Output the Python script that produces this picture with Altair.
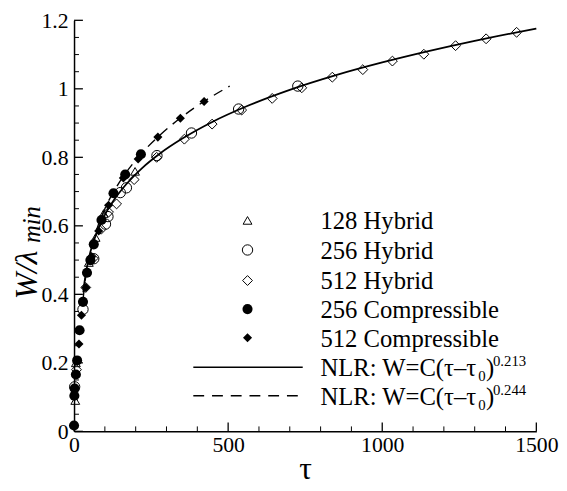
import altair as alt
import pandas as pd

# ---------------- data ----------------
series_names = ["128 Hybrid", "256 Hybrid", "512 Hybrid", "256 Compressible", "512 Compressible"]

tau_128h = [4, 6, 48, 70, 96, 198]
w_128h = [0.09, 0.20, 0.493, 0.566, 0.636, 0.759]

tau_256h = [2, 29, 64, 102, 110, 150, 170, 269, 381, 534, 726]
w_256h = [0.13, 0.356, 0.504, 0.605, 0.627, 0.697, 0.711, 0.805, 0.871, 0.941, 1.008]

tau_512h = [8, 38, 62, 88, 112, 138, 195, 268, 358, 448, 544, 643, 739, 838, 937, 1033, 1135, 1238, 1337, 1436]
w_512h = [0.18, 0.42, 0.505, 0.59, 0.64, 0.664, 0.735, 0.80, 0.853, 0.897, 0.938, 0.972, 1.003, 1.034, 1.056,
          1.081, 1.101, 1.126, 1.146, 1.165]

tau_256c = [0, 1, 2, 6, 10, 18, 29, 42, 53, 64, 89, 128, 166, 217]
w_256c = [0.017, 0.104, 0.125, 0.166, 0.207, 0.295, 0.378, 0.463, 0.50, 0.546, 0.617, 0.695, 0.75, 0.809]

tau_512c = [16, 24, 38, 57, 80, 112, 160, 208, 272, 345, 422]
w_512c = [0.255, 0.339, 0.42, 0.51, 0.585, 0.66, 0.74, 0.795, 0.859, 0.914, 0.963]

fit1_tau = [30, 35, 40, 50, 60, 75, 100, 130, 170, 220, 280, 350, 450, 560, 700, 850, 1000, 1150, 1300, 1500]
fit1_w = [0.406, 0.442, 0.470, 0.513, 0.545, 0.583, 0.632, 0.676, 0.722, 0.768, 0.812, 0.854, 0.904, 0.949,
          0.997, 1.040, 1.077, 1.110, 1.140, 1.176]

fit2_tau = [30, 35, 40, 50, 60, 75, 100, 130, 170, 220, 280, 350, 430, 505]
fit2_w = [0.391, 0.432, 0.463, 0.511, 0.549, 0.593, 0.650, 0.702, 0.757, 0.812, 0.866, 0.918, 0.968, 1.008]

fit_exponents = ["0.213", "0.244"]

x_major = [0, 500, 1000, 1500]
x_minor = [100, 200, 300, 400, 600, 700, 800, 900, 1100, 1200, 1300, 1400]
y_major = [0, 0.2, 0.4, 0.6, 0.8, 1.0, 1.2]
y_minor = [0.05, 0.1, 0.15, 0.25, 0.3, 0.35, 0.45, 0.5, 0.55, 0.65, 0.7, 0.75, 0.85, 0.9, 0.95, 1.05, 1.1, 1.15]

# ---------------- layout / style ----------------
FONT = "Liberation Serif"
W, H = 469, 417

xscale = alt.Scale(domain=[0, 1500], nice=False, zero=False)
yscale = alt.Scale(domain=[0, 1.2], nice=False, zero=False)
xaxis = alt.Axis(values=x_major, format="d", title=None, ticks=False, grid=False,
                 labelPadding=3, labelFlush=False)
yaxis = alt.Axis(values=y_major, format="~g", title=None, ticks=False, grid=False,
                 labelPadding=6, labelFlush=False)


def X(field):
    return alt.X(field, type="quantitative", scale=xscale, axis=xaxis)


def Y(field):
    return alt.Y(field, type="quantitative", scale=yscale, axis=yaxis)


def df(t, w):
    return pd.DataFrame({"tau": t, "w": w})


layers = []

# fitted curves
layers.append(alt.Chart(df(fit1_tau, fit1_w)).mark_line(color="black", strokeWidth=1.8, interpolate="monotone")
              .encode(x=X("tau"), y=Y("w")))
layers.append(alt.Chart(df(fit2_tau, fit2_w)).mark_line(color="black", strokeWidth=1.4, strokeDash=[10, 7],
                                                         interpolate="monotone")
              .encode(x=X("tau"), y=Y("w")))

styles = [
    dict(shape="triangle-up", filled=False, size=80),
    dict(shape="circle", filled=False, size=110),
    dict(shape="diamond", filled=False, size=100),
    dict(shape="circle", filled=True, size=105),
    dict(shape="diamond", filled=True, size=85),
]
series = [(tau_128h, w_128h), (tau_256h, w_256h), (tau_512h, w_512h), (tau_256c, w_256c), (tau_512c, w_512c)]

for (t, w), st in zip(series, styles):
    layers.append(alt.Chart(df(t, w)).mark_point(color="black", opacity=1, strokeWidth=1, **st)
                  .encode(x=X("tau"), y=Y("w")))

# inward ticks
xt_major = pd.DataFrame({"v": x_major})
xt_minor = pd.DataFrame({"v": x_minor})
yt_major = pd.DataFrame({"v": y_major})
yt_minor = pd.DataFrame({"v": y_minor})
layers.append(alt.Chart(xt_major).mark_rule(color="black", strokeWidth=1.3)
              .encode(x=X("v"), y=alt.value(H), y2=alt.value(H - 9)))
layers.append(alt.Chart(xt_minor).mark_rule(color="black", strokeWidth=1)
              .encode(x=X("v"), y=alt.value(H), y2=alt.value(H - 5)))
layers.append(alt.Chart(yt_major).mark_rule(color="black", strokeWidth=1.3)
              .encode(y=Y("v"), x=alt.value(0), x2=alt.value(9)))
layers.append(alt.Chart(yt_minor).mark_rule(color="black", strokeWidth=1)
              .encode(y=Y("v"), x=alt.value(0), x2=alt.value(5)))

dummy = pd.DataFrame({"k": [0]})


def vtext(txt, x, y, size, **kw):
    return (alt.Chart(dummy).mark_text(font=FONT, fontSize=size, color="black", **kw)
            .encode(x=alt.value(x), y=alt.value(y), text=alt.value(txt)))


# legend
sym_x = 176
txt_x = 250
row_y = [203, 233, 264, 293, 322]
for name, st, ry in zip(series_names, styles, row_y):
    layers.append(alt.Chart(dummy).mark_point(color="black", opacity=1, strokeWidth=1, **st)
                  .encode(x=alt.value(sym_x), y=alt.value(ry)))
    layers.append(vtext(name, txt_x, ry + 1, 25, align="left", baseline="middle"))

line_y = [352, 381]
base_y = [361, 390]
for i, (ly, by) in enumerate(zip(line_y, base_y)):
    rule = alt.Chart(dummy).mark_rule(color="black", strokeWidth=1.5, **({"strokeDash": [11, 8]} if i == 1 else {}))
    layers.append(rule.encode(x=alt.value(121), x2=alt.value(232), y=alt.value(ly)))
    layers.append(vtext("NLR: W=C(\u03c4\u2013\u03c4", txt_x, by, 25, align="left", baseline="alphabetic"))
    layers.append(vtext("0", 410, by + 5, 15, align="left", baseline="alphabetic"))
    layers.append(vtext(")", 418, by, 25, align="left", baseline="alphabetic"))
    layers.append(vtext(fit_exponents[i], 425, by - 10, 15, align="left", baseline="alphabetic"))

# axis titles
layers.append(vtext("\u03c4", 235, 465, 32, align="center", baseline="alphabetic"))
layers.append(vtext("W/\u03bb", -38, 283, 32, align="left", baseline="alphabetic", angle=270, fontStyle="italic"))
layers.append(vtext("min", -35, 226, 25, align="left", baseline="alphabetic", angle=270, fontStyle="italic"))

chart = (alt.layer(*layers)
         .properties(width=W, height=H,
                     autosize=alt.AutoSizeParams(type="none"),
                     padding={"left": 67, "top": 9, "right": 23, "bottom": 55})
         .configure_view(strokeWidth=0)
         .configure_axis(domainColor="black", domainWidth=1.5, labelFont=FONT, labelFontSize=22,
                         labelColor="black"))

chart.save("out.html", embed_options={"renderer": "svg", "actions": False})
